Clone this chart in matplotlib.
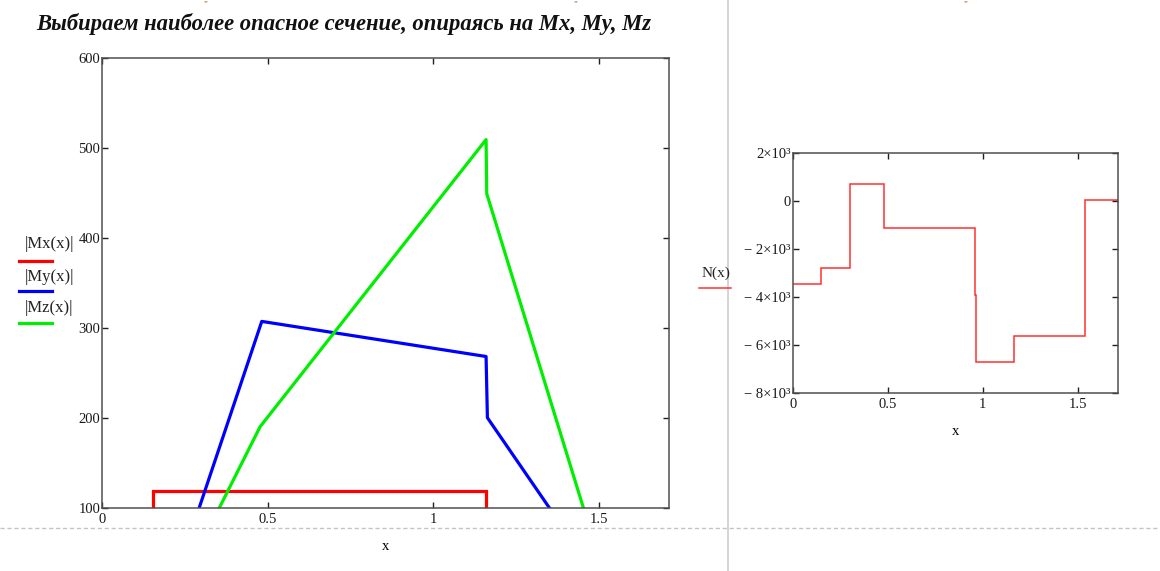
import matplotlib
matplotlib.use("Agg")
import matplotlib.pyplot as plt
from matplotlib.lines import Line2D

# |Mx(x)|, |My(x)|, |Mz(x)|
mx_edges = [0.0, 0.152, 1.160, 1.712]
mx_vals = [0, 119, 0]
my_x = [0.293, 0.482, 1.160, 1.164, 1.351]
my_y = [100, 307, 268, 200, 100]
mz_x = [0.354, 0.477, 1.160, 1.162, 1.454]
mz_y = [100, 190, 509, 449, 100]

# N(x) step function on the right chart
n_edges = [0.0, 0.149, 0.302, 0.479, 0.961, 0.9635, 1.163, 1.540, 1.714]
n_vals = [-3460, -2780, 720, -1120, -3920, -6700, -5620, 40]

left_xticks = [0, 0.5, 1, 1.5]
left_xlabels = ["0", "0.5", "1", "1.5"]
left_yticks = [100, 200, 300, 400, 500, 600]
right_yticks = [2000, 0, -2000, -4000, -6000, -8000]
right_ylabels = ["2\u00d710\u00b3", "0", "\u2212 2\u00d710\u00b3", "\u2212 4\u00d710\u00b3",
                 "\u2212 6\u00d710\u00b3", "\u2212 8\u00d710\u00b3"]

title = "Выбираем наиболее опасное сечение, опираясь на Mx, My, Mz"

W, H = 1160, 571
SERIF = ["Liberation Serif", "DejaVu Serif"]
plt.rcParams["font.family"] = SERIF
AX_COL = "#505050"


def fx(px):
    return px / W


def fy(py):
    return 1 - py / H


def axes_at(fig, x0, y0, x1, y1):
    return fig.add_axes([fx(x0), fy(y1), fx(x1 - x0), (y1 - y0) / H])


def style(ax):
    for sp in ax.spines.values():
        sp.set_color(AX_COL)
        sp.set_linewidth(1.1)
    ax.tick_params(direction="in", top=True, right=True, length=4.5, width=1.0,
                   color="#202020", labelsize=10.5, labelcolor="#1a1a1a")
    ax.tick_params(axis="y", pad=1.5)
    ax.tick_params(axis="x", pad=4)


fig = plt.figure(figsize=(W / 100, H / 100), dpi=100)

# page decorations of the worksheet
fig.add_artist(Line2D([fx(727.7)] * 2, [0, 1], color="#d4d4d4", lw=1.4))
fig.add_artist(Line2D([0, 1], [fy(528)] * 2, color="#c4c4c4", lw=1.0,
                      linestyle=(0, (3, 2))))
for px in (205, 575, 965):
    fig.text(fx(px), fy(0.5), "\u201d", fontsize=6, color="#a05a20",
             ha="center", va="top")

fig.text(fx(343.5), fy(24), title, fontsize=16.3, fontweight="bold",
         fontstyle="italic", ha="center", va="center", color="#111111")

# left chart
ax1 = axes_at(fig, 102.3, 57.7, 668.7, 507.7)
ax1.stairs(mx_vals, mx_edges, baseline=None, color="#ff0000", lw=2.3)
ax1.plot(my_x, my_y, color="#0000ff", lw=2.3)
ax1.plot(mz_x, mz_y, color="#00ee00", lw=2.3)
ax1.set_xlim(0, 1.712)
ax1.set_ylim(100, 600)
ax1.set_xticks(left_xticks, left_xlabels)
ax1.set_yticks(left_yticks)
style(ax1)
ax1.set_xlabel("x", fontsize=10.5)
ax1.xaxis.set_label_coords(0.5, -39 / 450, transform=ax1.transAxes)
ax1.xaxis.label.set_va("center")

legend_items = [("|Mx(x)|", "#ff0000", 244, 260.7),
                ("|My(x)|", "#0000ff", 277, 291.0),
                ("|Mz(x)|", "#00ee00", 308, 322.7)]
for label, col, ty, ly in legend_items:
    fig.text(fx(49.5), fy(ty), label, fontsize=12, ha="center", va="center",
             color="#222222")
    fig.add_artist(Line2D([fx(19), fx(52)], [fy(ly)] * 2, color=col, lw=2.3))

# right chart
ax2 = axes_at(fig, 792.7, 153.3, 1118.3, 392.7)
ax2.stairs(n_vals, n_edges, baseline=None, color="#ff3030", lw=1.1)
ax2.set_xlim(0, 1.714)
ax2.set_ylim(-8000, 2000)
ax2.set_xticks(left_xticks, left_xlabels)
ax2.set_yticks(right_yticks, right_ylabels)
style(ax2)
ax2.set_xlabel("x", fontsize=10.5)
ax2.xaxis.set_label_coords(0.5, -39 / 239.4, transform=ax2.transAxes)
ax2.xaxis.label.set_va("center")

fig.text(fx(716), fy(273), "N(x)", fontsize=11, ha="center", va="center",
         color="#222222")
fig.add_artist(Line2D([fx(699), fx(731)], [fy(287.7)] * 2, color="#ff3030", lw=1.1))

fig.savefig("out.png", dpi=100)
